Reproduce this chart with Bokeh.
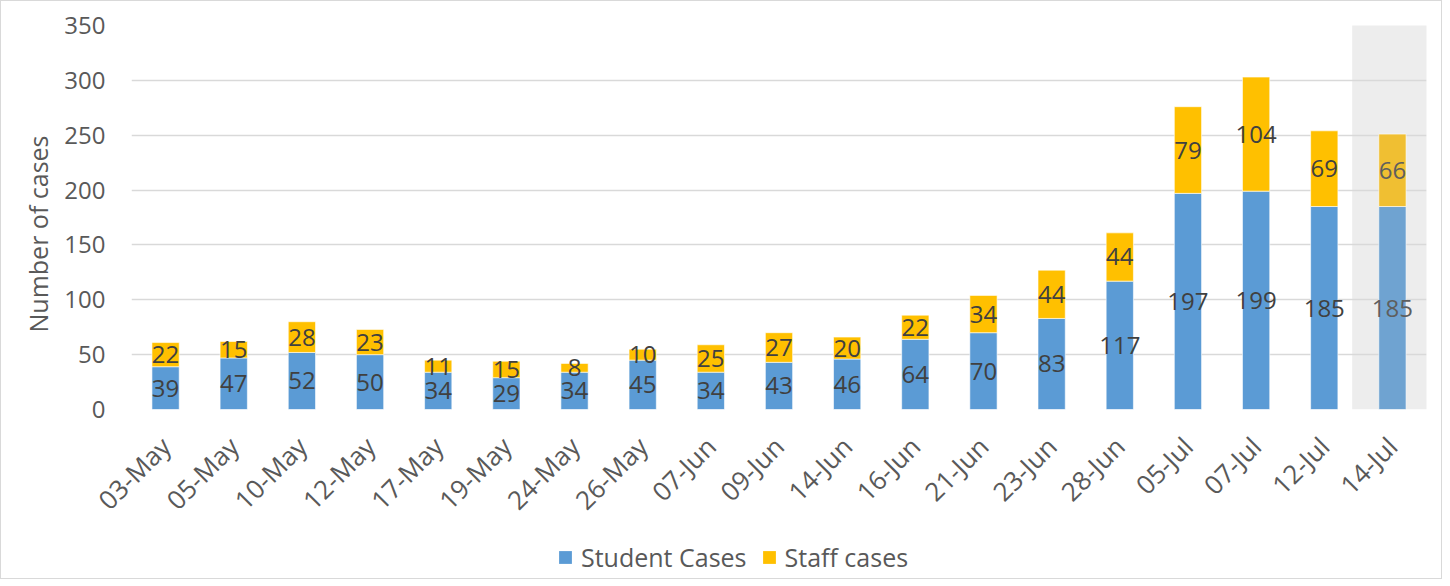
from math import pi
from bokeh.plotting import figure
from bokeh.layouts import column
from bokeh.models import ColumnDataSource, Range1d, FixedTicker, Legend, LegendItem, Title
from bokeh.core.properties import value
from bokeh.embed import file_html
from bokeh.resources import INLINE

dates = ["03-May", "05-May", "10-May", "12-May", "17-May", "19-May", "24-May", "26-May",
         "07-Jun", "09-Jun", "14-Jun", "16-Jun", "21-Jun", "23-Jun", "28-Jun",
         "05-Jul", "07-Jul", "12-Jul", "14-Jul"]
student = [39, 47, 52, 50, 34, 29, 34, 45, 34, 43, 46, 64, 70, 83, 117, 197, 199, 185, 185]
staff = [22, 15, 28, 23, 11, 15, 8, 10, 25, 27, 20, 22, 34, 44, 44, 79, 104, 69, 66]
y_ticks = [0, 50, 100, 150, 200, 250, 300, 350]
series_names = ["Student Cases", "Staff cases"]
y_title = "Number of cases"

FONT = "Open Sans"
BLUE, GOLD = "#5B9BD5", "#FFC000"
n = len(dates)
xs = [i + 0.5 for i in range(n)]
hl = n - 1  # highlighted last category

src = ColumnDataSource(dict(
    x=xs,
    student=student,
    staff=staff,
    top=[s + f for s, f in zip(student, staff)],
    s_mid=[s / 2 for s in student],
    f_mid=[s + f / 2 for s, f in zip(student, staff)],
    s_lbl=[str(v) for v in student],
    f_lbl=[str(v) for v in staff],
    zero=[0] * n,
    c_student=["#6FA3D1" if i == hl else BLUE for i in range(n)],
    c_staff=["#F0BF32" if i == hl else GOLD for i in range(n)],
    c_text=["#5E5E5E" if i == hl else "#404040" for i in range(n)],
))

p = figure(width=1440, height=532, output_backend="svg", toolbar_location=None,
           x_range=Range1d(0, n), y_range=Range1d(0, 350),
           min_border_left=130, min_border_right=15, min_border_top=24, min_border_bottom=124)
p.outline_line_color = None
p.background_fill_color = "white"
p.border_fill_color = "white"

# highlight band behind last category
p.quad(left=[hl - 0.09], right=[n + 0.02], bottom=[0], top=[352],
       fill_color="#EDEDED", line_color=None, level="image")

p.vbar(x="x", width=0.4, bottom="zero", top="student", source=src,
       fill_color="c_student", line_color="white", line_width=0.6)
p.vbar(x="x", width=0.4, bottom="student", top="top", source=src,
       fill_color="c_staff", line_color="white", line_width=0.6)

p.text(x="x", y="s_mid", text="s_lbl", source=src, text_align="center",
       text_baseline="middle", text_font=value(FONT), text_font_size="24px",
       text_color="c_text")
p.text(x="x", y="f_mid", text="f_lbl", source=src, text_align="center",
       text_baseline="middle", text_font=value(FONT), text_font_size="24px",
       text_color="c_text")

# axes
p.yaxis.ticker = FixedTicker(ticks=y_ticks)
p.yaxis.axis_line_color = None
p.yaxis.major_tick_line_color = None
p.yaxis.minor_tick_line_color = None
p.yaxis.major_label_standoff = 20
p.yaxis.major_label_text_font = FONT
p.yaxis.major_label_text_font_size = "24px"
p.yaxis.major_label_text_color = "#595959"

p.add_layout(Title(text=y_title, align="left", offset=77, standoff=14,
                   text_font=FONT, text_font_size="25px", text_font_style="normal",
                   text_color="#595959"), "left")

p.xaxis.ticker = FixedTicker(ticks=xs)
p.xaxis.major_label_overrides = {x: d for x, d in zip(xs, dates)}
p.xaxis.major_label_orientation = pi / 4
p.xaxis.axis_line_color = None
p.xaxis.major_tick_line_color = None
p.xaxis.minor_tick_line_color = None
p.xaxis.major_label_standoff = 26
p.xaxis.major_label_text_font = FONT
p.xaxis.major_label_text_font_size = "26px"
p.xaxis.major_label_text_color = "#595959"

p.xgrid.grid_line_color = None
p.ygrid.grid_line_color = "#D9D9D9"
p.ygrid.grid_line_width = 1.5

# legend strip below the chart (its frame is aligned with the chart's frame)
lg = figure(width=1440, height=45, output_backend="svg", toolbar_location=None,
            x_range=Range1d(0, 1), y_range=Range1d(0, 1),
            min_border_left=0, min_border_right=0, min_border_top=0, min_border_bottom=0)
lg.axis.visible = False
lg.grid.visible = False
lg.outline_line_color = None
lg.border_fill_color = "white"
# legend keys: off-screen marks that only supply the legend swatches
k_s = lg.vbar(x=[-50], bottom=[-60], top=[-50], width=0.4, fill_color=BLUE, line_color=None)
k_f = lg.vbar(x=[-50], bottom=[-60], top=[-50], width=0.4, fill_color=GOLD, line_color=None)
legend = Legend(items=[LegendItem(label=series_names[0], renderers=[k_s]),
                       LegendItem(label=series_names[1], renderers=[k_f])],
                location=(426, 4), orientation="horizontal",
                padding=0, margin=0, spacing=14, label_standoff=8,
                glyph_width=16, glyph_height=16,
                label_text_font=FONT, label_text_font_size="25px",
                label_text_color="#595959",
                background_fill_alpha=0, border_line_color=None)
lg.add_layout(legend, "center")

page = column(p, lg, spacing=0, styles={"border": "1px solid #D9D9D9"})

open("out.html", "w").write(file_html(page, INLINE))
